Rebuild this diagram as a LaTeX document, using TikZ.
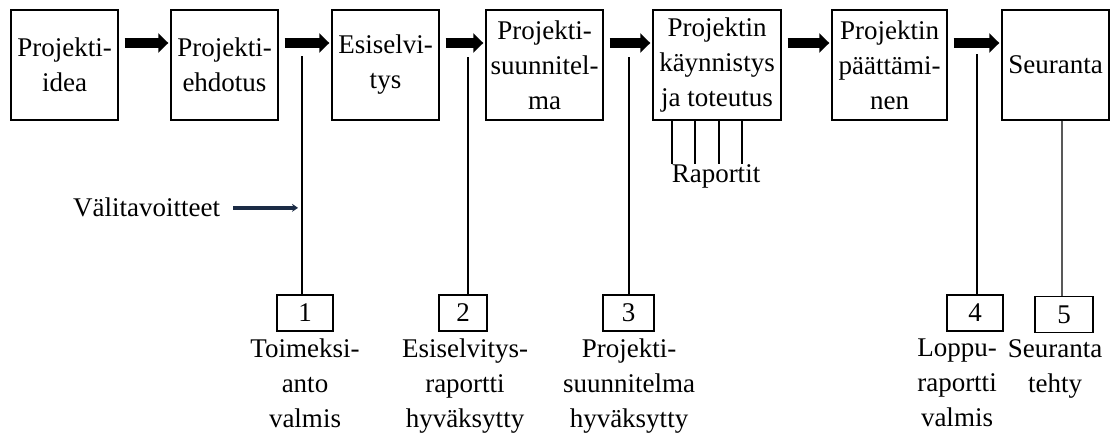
\documentclass[tikz,border=0pt]{standalone}
\usepackage{fontspec}
\setmainfont{Liberation Serif}
\usetikzlibrary{arrows.meta}
\definecolor{navyline}{HTML}{1B2B45}
\begin{document}
\begin{tikzpicture}[x=1pt,y=-1pt,
  every node/.style={font=\fontsize{27}{35}\selectfont},
  stage/.style={draw, line width=1.4pt, minimum height=110pt, inner sep=0pt, align=center},
  flow/.style={line width=10pt, -{Triangle[length=10pt,width=19pt]}, shorten <=6pt, shorten >=2pt},
  milestone/.style={draw, line width=1.4pt, minimum height=36pt, inner sep=0pt},
  gate/.style={line width=1.4pt},
  caption/.style={anchor=north, inner sep=0pt, align=center},
  pointer/.style={navyline, line width=3.5pt, -{Stealth[length=6pt,width=8pt]}}]
\path[use as bounding box] (0,0) rectangle (1112,434);

% project phases
\node[stage, minimum width=107pt] (s1) at (64.5,65)   {Projekti-\\idea};
\node[stage, minimum width=107pt] (s2) at (224.5,65)  {Projekti-\\ehdotus};
\node[stage, minimum width=107pt] (s3) at (385.5,65)  {Esiselvi-\\tys};
\node[stage, minimum width=117pt] (s4) at (544.5,65)  {Projekti-\\suunnitel-\\ma};
\node[stage, minimum width=128pt] (s5) at (717,65)    {Projektin\\käynnistys\\ja toteutus};
\node[stage, minimum width=115pt] (s6) at (889.5,65)  {Projektin\\päättämi-\\nen};
\node[stage, minimum width=107pt] (s7) at (1055.5,65) {Seuranta};

% flow between phases
\foreach \a/\b in {s1/s2,s2/s3,s3/s4,s4/s5,s5/s6,s6/s7}
  \draw[flow] ([yshift=22pt]\a.east) -- ([yshift=22pt]\b.west);

% milestones
\node[milestone, minimum width=56pt] (m1) at (305,313)    {1};
\node[milestone, minimum width=48pt] (m2) at (463,313)    {2};
\node[milestone, minimum width=51pt] (m3) at (628.5,313)  {3};
\node[milestone, minimum width=56pt] (m4) at (975,313)    {4};
\node[milestone, minimum width=58pt] (m5) at (1064,314.5) {5};

\coordinate (g1) at (302,56);
\coordinate (g2) at (468,57);
\coordinate (g3) at (629,57);
\coordinate (g4) at (977,54);
\draw[gate] (g1) -- (g1 |- m1.north);
\draw[gate] (g2) -- (g2 |- m2.north);
\draw[gate] (g3) -- (g3 |- m3.north);
\draw[gate] (g4) -- (g4 |- m4.north);
\draw[gate, black!65] ([xshift=-2pt]m5.north |- s7.south) -- ([xshift=-2pt]m5.north);

% milestone captions
\node[caption] (c1) at (305,339)  {Toimeksi-\\anto\\valmis};
\node[caption] (c2) at (465,339)  {Esiselvitys-\\raportti\\hyväksytty};
\node[caption] (c3) at (629,339)  {Projekti-\\suunnitelma\\hyväksytty};
\node[caption] (c4) at (957,339)  {Loppu-\\raportti\\valmis};
\node[caption] (c5) at (1055,339) {Seuranta\\tehty};

% reports during implementation
\node[anchor=base, inner sep=0pt] (rap) at (716,182) {Raportit};
\foreach \x in {672,695,719,742}
  \draw[gate] (s5.south -| \x,0) -- (rap.north -| \x,0);

% intermediate goals
\node[anchor=base west, inner sep=0pt] (vt) at (73,216) {Välitavoitteet};
\draw[pointer, shorten <=13pt, shorten >=4pt] ([yshift=-1pt]vt.east) -- ([yshift=-1pt]vt.east -| g1);
\end{tikzpicture}
\end{document}
